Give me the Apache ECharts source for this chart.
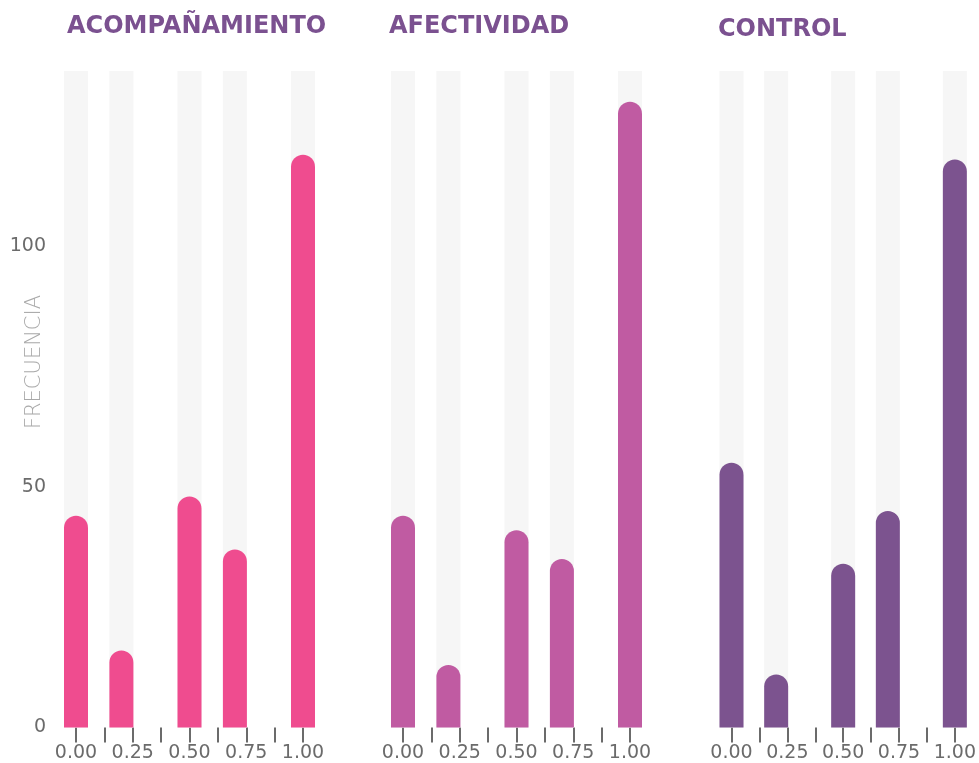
<!DOCTYPE html>
<html>
<head>
<meta charset="utf-8">
<script src="https://cdn.jsdelivr.net/npm/echarts@6/dist/echarts.min.js"></script>
<style>
    html, body { margin: 0; padding: 0; background: #fff; }
    #chart { width: 979px; height: 763px; }
</style>
</head>
<body>
<div id="chart"></div>
<script>
// bins on the x axis and frequency per bin for each panel
var bins = [0, 0.2, 0.5, 0.7, 1];
var acompanamiento = [44, 16, 48, 37, 119];
var afectividad = [44, 13, 41, 35, 130];
var control = [55, 11, 34, 45, 118];
var panelTitles = ['ACOMPAÑAMIENTO', 'AFECTIVIDAD', 'CONTROL'];
var yTicks = [0, 50, 100];
var xTickLabels = [0, 0.25, 0.5, 0.75, 1];

var font = 'DejaVu Sans';
var colors = ['#ef4c8f', '#c05ba2', '#7c538f'];
var panels = [acompanamiento, afectividad, control];
var lefts = [76, 403, 731.5];
var titleLefts = [62, 384, 713];
var titleTops = [10, 10, 13];
var yMax = 136.4;

var grids = [], xAxes = [], yAxes = [], series = [], titles = [];

panels.forEach(function (values, i) {
    grids.push({ left: lefts[i], width: 227, top: 71, bottom: 35.5 });
    titles.push({
        text: panelTitles[i],
        left: titleLefts[i],
        top: titleTops[i],
        textStyle: { fontFamily: font, fontWeight: 'bold', fontSize: 24, color: '#7b5190' }
    });
    xAxes.push({
        gridIndex: i,
        type: 'value',
        min: 0,
        max: 1,
        interval: 0.125,
        axisLine: { show: false },
        splitLine: { show: false },
        axisTick: { length: 15, lineStyle: { color: '#6b6b6b', width: 2 } },
        axisLabel: {
            margin: 16,
            fontFamily: font,
            fontSize: 19,
            color: '#6b6b6b',
            formatter: function (v) {
                var hit = xTickLabels.some(function (t) { return Math.abs(t - v) < 1e-6; });
                return hit ? v.toFixed(2) : '';
            }
        }
    });
    yAxes.push({
        gridIndex: i,
        type: 'value',
        min: 0,
        max: yMax,
        interval: 50,
        show: i === 0,
        axisLine: { show: false },
        axisTick: { show: false },
        splitLine: { show: false },
        axisLabel: {
            margin: 30,
            fontFamily: font,
            fontSize: 19,
            color: '#6b6b6b',
            formatter: function (v) {
                return yTicks.indexOf(v) >= 0 ? String(v) : '';
            }
        }
    });
    series.push({
        type: 'bar',
        xAxisIndex: i,
        yAxisIndex: i,
        barWidth: 24,
        clip: false,
        showBackground: true,
        backgroundStyle: { color: '#f6f6f6' },
        itemStyle: { color: colors[i], borderRadius: [12, 12, 0, 0] },
        data: bins.map(function (b, j) { return [b, values[j]]; })
    });
});

var myChart = echarts.init(document.getElementById('chart'));
myChart.setOption({
    animation: false,
    title: titles,
    grid: grids,
    xAxis: xAxes,
    yAxis: yAxes,
    series: series,
    graphic: [{
        type: 'text',
        x: 35,
        y: 362,
        rotation: Math.PI / 2,
        style: {
            text: 'FRECUENCIA',
            fontFamily: font,
            fontWeight: 200,
            fontSize: 21,
            fill: '#a9a9a9',
            align: 'center',
            verticalAlign: 'middle'
        }
    }]
});
</script>
</body>
</html>
